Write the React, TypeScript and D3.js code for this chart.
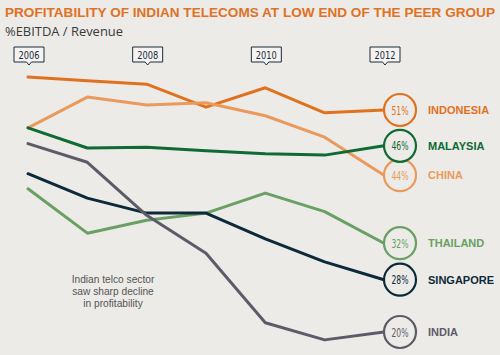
import React from "react";
import * as d3 from "d3";

const years = [2006, 2007, 2008, 2009, 2010, 2011, 2012];
const tickYears = [2006, 2008, 2010, 2012];

const indonesia = [55.6, 55.1, 54.6, 51.4, 54.1, 50.6, 51.0];
const china = [48.5, 52.8, 51.7, 52.0, 50.2, 47.2, 41.9];
const malaysia = [48.5, 45.7, 45.8, 45.3, 44.9, 44.7, 46.0];
const thailand = [40.0, 33.8, 35.6, 36.6, 39.4, 36.8, 32.4];
const singapore = [42.1, 38.7, 36.6, 36.6, 33.0, 29.8, 27.3];
const india = [46.3, 43.7, 36.3, 31.0, 21.3, 18.9, 20.0];

const countryNames = ["INDONESIA", "CHINA", "MALAYSIA", "THAILAND", "SINGAPORE", "INDIA"];
const endLabels = ["51%", "44%", "46%", "32%", "28%", "20%"];
const seriesValues = [indonesia, china, malaysia, thailand, singapore, india];
const seriesColors = ["#e0711f", "#e99a5c", "#0f6a33", "#6aa063", "#0c2a39", "#5e5b69"];

const title = "PROFITABILITY OF INDIAN TELECOMS AT LOW END OF THE PEER GROUP";
const subtitle = "%EBITDA / Revenue";
const note = ["Indian telco sector", "saw sharp decline", "in profitability"];

const W = 500;
const H = 355;
const BG = "#ecebe8";

export default function App() {
  const x = d3.scaleLinear().domain([2006, 2012]).range([28, 384]);
  const y = d3.scaleLinear().domain([20, 51]).range([332, 110]);
  const line = d3
    .line<number>()
    .x((_, i) => x(years[i]))
    .y((d) => y(d))
    .curve(d3.curveLinear);
  const r = 16;

  return (
    <svg
      width={W}
      height={H}
      style={{ position: "absolute", left: 0, top: 0, background: BG }}
    >
      <rect x={0} y={0} width={W} height={H} fill={BG} />
      <text
        x={5}
        y={16.5}
        fontFamily="Liberation Sans, Arial, sans-serif"
        fontWeight="bold"
        fontSize={13.5}
        fill="#e0711f"
        textLength={490}
        lengthAdjust="spacingAndGlyphs"
      >
        {title}
      </text>
      <text
        x={5}
        y={36}
        fontFamily="Open Sans, sans-serif"
        fontSize={12}
        fill="#3a3a3a"
        textLength={118}
        lengthAdjust="spacingAndGlyphs"
      >
        {subtitle}
      </text>

      {tickYears.map((yr) => {
        const cx = x(yr) + 1;
        return (
          <g key={yr}>
            <path
              d={`M${cx - 15},47 H${cx + 15} V62 H${cx + 2.5} L${cx},65 L${cx - 2.5},62 H${cx - 15} Z`}
              fill="#f4f3f1"
              stroke="#1c2c3a"
              strokeWidth={1}
            />
            <text
              x={cx}
              y={58.5}
              textAnchor="middle"
              fontFamily="DejaVu Sans Condensed, DejaVu Sans, sans-serif"
              fontSize={10}
              fill="#1c2c3a"
              textLength={21}
              lengthAdjust="spacingAndGlyphs"
            >
              {yr}
            </text>
          </g>
        );
      })}

      {seriesValues.map((vals, i) => (
        <path
          key={countryNames[i]}
          d={line(vals) || ""}
          fill="none"
          stroke={seriesColors[i]}
          strokeWidth={3}
          strokeLinejoin="round"
          strokeLinecap="round"
        />
      ))}

      {seriesValues.map((vals, i) => {
        const cx = x(2012) + r;
        const cy = y(vals[vals.length - 1]);
        return (
          <g key={"end" + i}>
            <circle cx={cx} cy={cy} r={r} fill={BG} stroke={seriesColors[i]} strokeWidth={2.2} />
            <text
              x={cx}
              y={cy + 4.5}
              textAnchor="middle"
              fontFamily="DejaVu Sans Condensed, DejaVu Sans, sans-serif"
              fontSize={13}
              fill={seriesColors[i]}
              textLength={17}
              lengthAdjust="spacingAndGlyphs"
            >
              {endLabels[i]}
            </text>
            <text
              x={428}
              y={cy + 4}
              fontFamily="Liberation Sans, Arial, sans-serif"
              fontWeight="bold"
              fontSize={11}
              fill={seriesColors[i]}
            >
              {countryNames[i]}
            </text>
          </g>
        );
      })}

      {note.map((t, i) => (
        <text
          key={t}
          x={113}
          y={283 + i * 12}
          textAnchor="middle"
          fontFamily="Liberation Sans, Arial, sans-serif"
          fontSize={10.2}
          fill="#555"
        >
          {t}
        </text>
      ))}
    </svg>
  );
}
